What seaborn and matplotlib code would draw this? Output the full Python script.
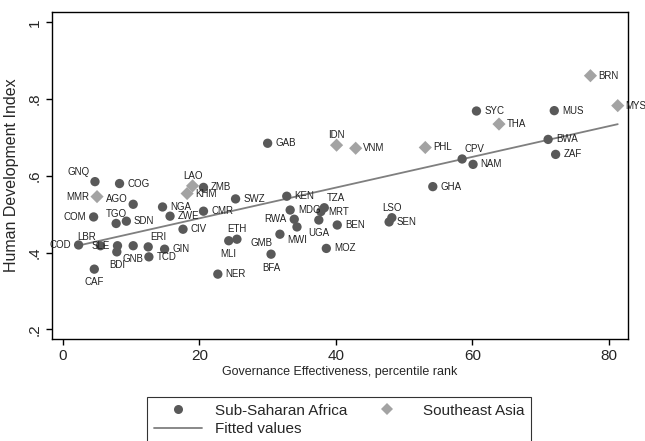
import numpy as np
import pandas as pd
import matplotlib
matplotlib.use("Agg")
import matplotlib.pyplot as plt
from matplotlib.lines import Line2D
import seaborn as sns

# data: governance effectiveness (pct rank) vs HDI
ssa_iso = ["GNQ", "COG", "AGO", "COM", "TGO", "SDN", "NGA", "ZWE", "CMR", "ZMB",
           "SWZ", "CIV", "ETH", "MLI", "NER", "COD", "LBR", "SLE", "GNB", "BDI",
           "ERI", "GIN", "TCD", "CAF", "GAB", "KEN", "MDG", "RWA", "UGA", "MWI",
           "TZA", "MRT", "BEN", "GMB", "BFA", "MOZ", "LSO", "SEN", "GHA", "CPV",
           "NAM", "SYC", "MUS", "BWA", "ZAF"]
ssa_gov = [4.7, 8.3, 10.3, 4.5, 7.8, 9.3, 14.6, 15.7, 20.6, 20.6,
           25.3, 17.6, 25.5, 24.3, 22.7, 2.3, 5.5, 8.0, 10.3, 7.9,
           12.5, 14.9, 12.6, 4.6, 30.0, 32.8, 33.3, 33.9, 37.5, 34.3,
           38.3, 37.8, 40.2, 31.8, 30.5, 38.6, 48.2, 47.8, 54.2, 58.5,
           60.1, 60.6, 72.0, 71.1, 72.2]
ssa_hdi = [0.585, 0.580, 0.526, 0.493, 0.476, 0.482, 0.519, 0.495, 0.508, 0.570,
           0.540, 0.461, 0.435, 0.431, 0.344, 0.420, 0.418, 0.418, 0.418, 0.402,
           0.415, 0.409, 0.389, 0.357, 0.685, 0.547, 0.511, 0.487, 0.485, 0.467,
           0.517, 0.507, 0.472, 0.448, 0.396, 0.411, 0.491, 0.480, 0.572, 0.644,
           0.630, 0.769, 0.770, 0.695, 0.656]

sea_iso = ["MMR", "LAO", "KHM", "IDN", "VNM", "PHL", "THA", "BRN", "MYS"]
sea_gov = [5.0, 19.0, 18.2, 40.1, 42.9, 53.1, 63.9, 77.3, 81.3]
sea_hdi = [0.546, 0.574, 0.554, 0.680, 0.672, 0.674, 0.735, 0.861, 0.783]

df = pd.DataFrame({
    "iso": ssa_iso + sea_iso,
    "gov": ssa_gov + sea_gov,
    "hdi": ssa_hdi + sea_hdi,
    "region": ["Sub-Saharan Africa"] * len(ssa_iso) + ["Southeast Asia"] * len(sea_iso),
})

# label clock positions (Stata style), default is 3 o'clock
labpos = {"GNQ": 11, "AGO": 10, "COM": 9, "TGO": 12, "ETH": 12, "MLI": 6,
          "COD": 9, "LBR": 11, "SLE": 9, "GNB": 6, "BDI": 6, "ERI": 1,
          "CAF": 6, "RWA": 9, "UGA": 6, "MWI": 6, "TZA": 1, "GMB": 8,
          "BFA": 6, "LSO": 12, "CPV": 1, "MMR": 9, "LAO": 12, "IDN": 12}
clock = {3: ((5.5, 0), "left", "center"),
         9: ((-5.5, 0), "right", "center"),
         12: ((0, 3.5), "center", "bottom"),
         6: ((0, -6), "center", "top"),
         1: ((1.5, 3.5), "left", "bottom"),
         11: ((-3.5, 3), "right", "bottom"),
         10: ((-4, 0), "right", "bottom"),
         8: ((-5, -3), "right", "top")}

sns.set_style("white")
plt.rcParams["font.family"] = ["Liberation Sans", "DejaVu Sans"]

dark = "#595959"
light = "#a3a3a3"

fig = plt.figure(figsize=(6.45, 4.41), dpi=100)
ax = fig.add_axes([0.0806, 0.2313, 0.893, 0.7415])

sns.scatterplot(data=df, x="gov", y="hdi", hue="region", style="region",
                markers={"Sub-Saharan Africa": "o", "Southeast Asia": "D"},
                palette={"Sub-Saharan Africa": dark, "Southeast Asia": light},
                s=45, linewidth=0, legend=False, ax=ax, zorder=3)
sns.regplot(data=df, x="gov", y="hdi", scatter=False, ci=None, truncate=True,
            color="#7f7f7f", line_kws={"lw": 1.3, "zorder": 2}, ax=ax)

for iso, x, y in zip(df["iso"], df["gov"], df["hdi"]):
    off, ha, va = clock[labpos.get(iso, 3)]
    ax.annotate(iso, (x, y), xytext=off, textcoords="offset points",
                ha=ha, va=va, fontsize=7, color="#222222", zorder=4)

ax.set_xlim(-1.6, 82.8)
ax.set_ylim(0.175, 1.027)
ax.set_xticks([0, 20, 40, 60, 80])
ax.set_yticks([0.2, 0.4, 0.6, 0.8, 1.0])
ax.set_yticklabels([".2", ".4", ".6", ".8", "1"], rotation=90, va="center")
ax.tick_params(axis="both", direction="out", length=4, width=1, labelsize=11,
               color="black", left=True, bottom=True)
ax.set_xlabel("Governance Effectiveness, percentile rank", fontsize=9, labelpad=2)
ax.set_ylabel("Human Development Index", fontsize=11.5, labelpad=6)
for sp in ax.spines.values():
    sp.set_color("black")
    sp.set_linewidth(1)

handles = [
    Line2D([], [], marker="o", ls="none", color=dark, markersize=6.5, mew=0),
    Line2D([], [], color="#7f7f7f", lw=1.3),
    Line2D([], [], marker="D", ls="none", color=light, markersize=6, mew=0),
]
labels = ["Sub-Saharan Africa", "Fitted values", "Southeast Asia"]
leg = fig.legend(handles, labels, loc="upper center", bbox_to_anchor=(0.526, 0.116),
                 ncol=2, fontsize=11, frameon=True, fancybox=False,
                 handlelength=3.2, handletextpad=0.8, columnspacing=1.0,
                 borderpad=0.4, labelspacing=0.3)
leg.get_frame().set_edgecolor("black")
leg.get_frame().set_linewidth(0.8)

fig.savefig("out.png", dpi=100)
